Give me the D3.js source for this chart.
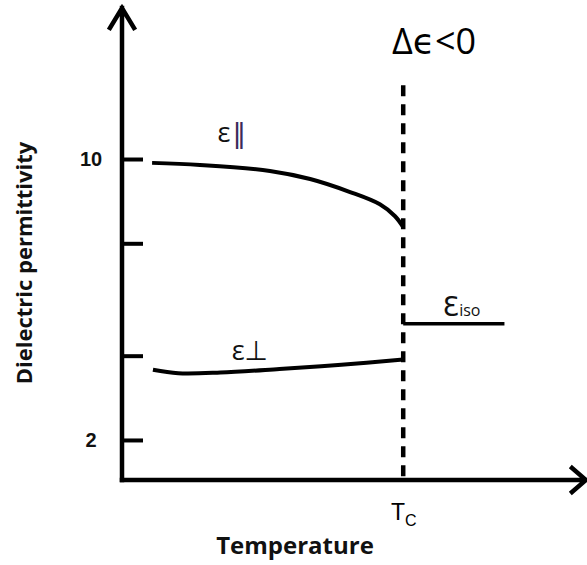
<!DOCTYPE html>
<html>
<head>
<meta charset="utf-8">
<script src="https://cdn.jsdelivr.net/npm/d3@7"></script>
<style>
  body { margin: 0; background: #fff; }
  svg { display: block; font-family: 'Open Sans', 'DejaVu Sans', sans-serif; }
</style>
</head>
<body>
<svg width="587" height="565"></svg>
<script>

// reduced temperature (T / Tc) and permittivity
const parallelT = [0.107, 0.277, 0.526, 0.669, 0.811, 0.917, 0.971, 1.0];
const parallelEps = [9.89, 9.83, 9.66, 9.43, 9.06, 8.71, 8.37, 8.06];
const perpT = [0.11, 0.2, 0.35, 0.56, 0.78, 1.0];
const perpEps = [4.0, 3.9, 3.92, 4.02, 4.14, 4.29];
const isoT = [1.0, 1.36];
const isoEps = [5.31, 5.31];
const tc = 1.0;
const yTicks = [2, 4.4, 7.6, 10];
const yTickLabels = ['2', '', '', '10'];

// axis extents
const tMax = 1.65;
const epsMin = 0.86;
const epsMax = 14.3;
const dashTop = 12.1;

const svg = document.querySelector('svg');

// create chart scale
const xScale = d3.scaleLinear().domain([0, tMax]).range([122, 586]);
const yScale = d3.scaleLinear().domain([epsMin, epsMax]).range([480, 8]);

const x0 = xScale(0);
const y0 = yScale(epsMin);

// y-axis ticks and labels
const yAxis = d3.axisLeft()
                .scale(yScale)
                .tickValues(yTicks)
                .tickSizeInner(-21)
                .tickSizeOuter(0)
                .tickPadding(31)
                .tickFormat((d, i) => yTickLabels[i]);
const yAxisG = d3.select(svg)
  .append('g')
  .attr('transform', `translate(${x0}, 0)`)
  .call(yAxis);
yAxisG.select('.domain').remove();
yAxisG.selectAll('line')
  .attr('stroke', '#000')
  .attr('stroke-width', 4);
yAxisG.selectAll('text')
  .attr('fill', '#111')
  .attr('text-anchor', 'middle')
  .style('font-size', '20px')
  .style('font-weight', 'bold');

// x-axis: only the Tc label
const xAxis = d3.axisBottom()
                .scale(xScale)
                .tickValues([tc])
                .tickSize(0)
                .tickPadding(0)
                .tickFormat('');
const xAxisG = d3.select(svg)
  .append('g')
  .attr('transform', `translate(0, ${y0})`)
  .call(xAxis);
xAxisG.select('.domain').remove();
const tcText = xAxisG.select('.tick')
  .append('text')
  .attr('y', 40)
  .attr('text-anchor', 'middle')
  .attr('fill', '#000')
  .style('font-size', '23px');
tcText.append('tspan').text('T');
tcText.append('tspan').text('C').attr('dy', 6).style('font-size', '16px');

// axis lines with open arrow heads
const xEnd = xScale(tMax);
const yEnd = yScale(epsMax);
d3.select(svg)
  .append('path')
  .attr('d', `M${x0},${y0}V${yEnd}M${x0 - 12},${yEnd + 20}L${x0},${yEnd}L${x0 + 12},${yEnd + 20}`)
  .attr('fill', 'none')
  .attr('stroke', '#000')
  .attr('stroke-width', 4.5)
  .attr('stroke-linecap', 'square');
d3.select(svg)
  .append('path')
  .attr('d', `M${x0},${y0}H${xEnd}M${xEnd - 14},${y0 - 12}L${xEnd},${y0}L${xEnd - 14},${y0 + 12}`)
  .attr('fill', 'none')
  .attr('stroke', '#000')
  .attr('stroke-width', 4.5)
  .attr('stroke-linecap', 'square');

// dashed line at the transition
d3.select(svg)
  .append('line')
  .attr('x1', xScale(tc))
  .attr('x2', xScale(tc))
  .attr('y1', yScale(dashTop))
  .attr('y2', y0)
  .attr('stroke', '#000')
  .attr('stroke-width', 4.5)
  .attr('stroke-dasharray', '11,8');

// draw the curves
const line = d3.line()
               .x(d => xScale(d[0]))
               .y(d => yScale(d[1]))
               .curve(d3.curveCatmullRom);
d3.select(svg)
  .append('path')
  .attr('d', line(d3.zip(parallelT, parallelEps)))
  .attr('fill', 'none')
  .attr('stroke', '#000')
  .attr('stroke-width', 4);
d3.select(svg)
  .append('path')
  .attr('d', line(d3.zip(perpT, perpEps)))
  .attr('fill', 'none')
  .attr('stroke', '#000')
  .attr('stroke-width', 4);
d3.select(svg)
  .append('path')
  .attr('d', line(d3.zip(isoT, isoEps)))
  .attr('fill', 'none')
  .attr('stroke', '#000')
  .attr('stroke-width', 3.5);

// curve labels
const parLabel = d3.select(svg)
  .append('text')
  .attr('x', xScale(0.34))
  .attr('y', yScale(10.49))
  .attr('fill', '#111')
  .style('font-size', '27px');
parLabel.append('tspan').text('ε');
parLabel.append('tspan').text('‖').attr('dx', 2).attr('fill', '#3c2a5a');

d3.select(svg)
  .append('text')
  .text('ε⊥')
  .attr('x', xScale(0.39))
  .attr('y', yScale(4.29))
  .attr('fill', '#111')
  .style('font-size', '27px');

const isoLabel = d3.select(svg)
  .append('text')
  .attr('x', xScale(1.14))
  .attr('y', yScale(5.54))
  .attr('fill', '#111')
  .style('font-size', '27px');
isoLabel.append('tspan').text('Ɛ');
isoLabel.append('tspan').text('iso').style('font-size', '16px');

d3.select(svg)
  .append('text')
  .text('Δϵ<0')
  .attr('x', xScale(0.96))
  .attr('y', yScale(13.0))
  .attr('fill', '#000')
  .style('font-size', '36px');

// axis titles
d3.select(svg)
  .append('text')
  .text('Temperature')
  .attr('x', 295)
  .attr('y', 554)
  .attr('text-anchor', 'middle')
  .attr('fill', '#111')
  .style('font-size', '24px')
  .style('font-weight', 'bold');

d3.select(svg)
  .append('text')
  .text('Dielectric permittivity')
  .attr('transform', 'translate(32, 263) rotate(-90)')
  .attr('text-anchor', 'middle')
  .attr('fill', '#111')
  .style('font-size', '22px')
  .style('font-weight', 'bold');

</script>
</body>
</html>
